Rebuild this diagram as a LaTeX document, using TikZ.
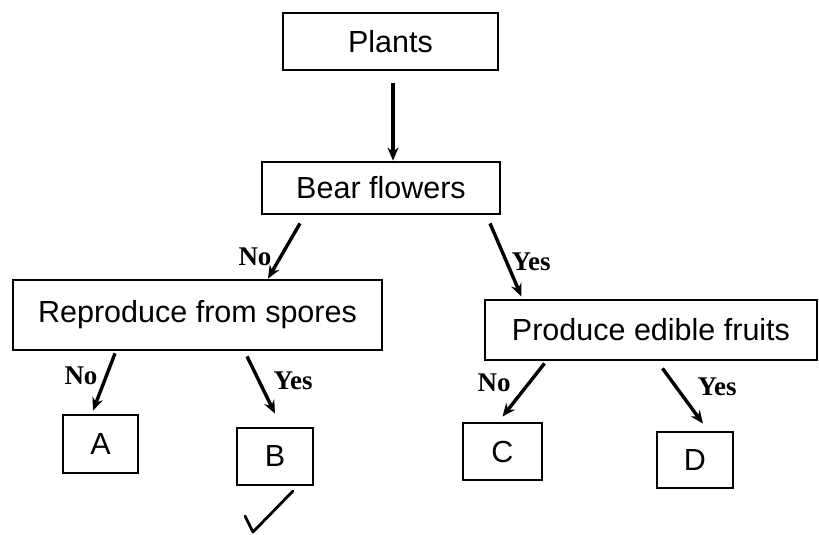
\documentclass[tikz,border=0pt]{standalone}
\usepackage{fontspec}
\setmainfont{Liberation Sans}
\newfontfamily\labelfont{Liberation Serif}
\usetikzlibrary{arrows.meta}
\begin{document}
\begin{tikzpicture}[x=1pt,y=-1pt,
  box/.style={draw=black,line width=2.8pt,inner sep=0pt,font=\fontsize{30.5}{34}\selectfont},
  arr/.style={line width=3.4pt,-{Stealth[length=13pt,width=11pt]}},
  lab/.style={font=\labelfont\bfseries\fontsize{27}{30}\selectfont,inner sep=0pt}]
\useasboundingbox (0,0) rectangle (819,535);
\node[box,minimum width=215pt,minimum height=57pt] (plants) at (390.5,41.5) {Plants};
\node[box,minimum width=238pt,minimum height=52pt] (bear) at (381,188) {Bear flowers};
\node[box,minimum width=369pt,minimum height=70pt] (rep) at (197.5,315) {Reproduce from spores};
\node[box,minimum width=332pt,minimum height=60pt] (prod) at (651,330) {Produce edible fruits};
\node[box,minimum width=75pt,minimum height=58pt] (A) at (100.5,444) {A};
\node[box,minimum width=76pt,minimum height=57pt] (B) at (275,456.5) {B};
\node[box,minimum width=79pt,minimum height=57pt] (C) at (502.5,451.5) {C};
\node[box,minimum width=76pt,minimum height=56pt] (D) at (695,460) {D};
\draw[arr] ([xshift=2.5pt,yshift=-12pt]plants.south) -- ([xshift=12pt]bear.north);
\draw[arr] ([xshift=-81pt,yshift=-8pt]bear.south) -- ([xshift=70.5pt]rep.north);
\draw[arr] ([xshift=109pt,yshift=-8pt]bear.south) -- ([xshift=-129.5pt,yshift=2pt]prod.north);
\draw[arr] ([xshift=-82.5pt,yshift=-2pt]rep.south) -- ([xshift=-7.5pt,yshift=3pt]A.north);
\draw[arr] ([xshift=49.5pt,yshift=-5pt]rep.south) -- ([yshift=13pt]B.north);
\draw[arr] ([xshift=-106.5pt,yshift=-2pt]prod.south) -- ([yshift=5pt]C.north);
\draw[arr] ([xshift=11.5pt,yshift=-7pt]prod.south) -- ([xshift=8pt,yshift=7pt]D.north);
\node[lab] (l1) at (255,257) {No};
\node[lab] (l2) at (531,262) {Yes};
\node[lab] (l3) at (81,376) {No};
\node[lab] (l4) at (293,381) {Yes};
\node[lab] (l5) at (494,383) {No};
\node[lab] (l6) at (717,387) {Yes};
\draw[line width=2.8pt,line cap=round,line join=round] (245,516) -- (253,532) -- (293,491);
\end{tikzpicture}
\end{document}
